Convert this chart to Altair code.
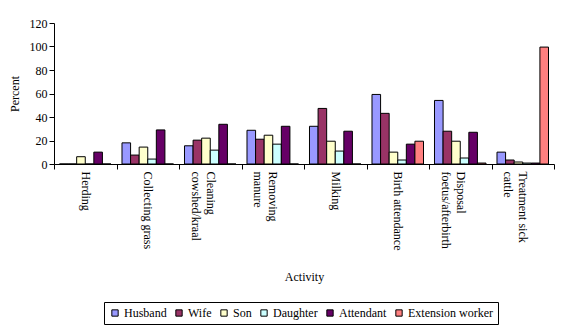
import altair as alt
import pandas as pd

NB = "\u00a0"
activities = [
    "Herding",
    "Collecting grass",
    "Cleaning cowshed/kraal",
    "Removing manure",
    "Milking",
    "Birth attendance",
    "Disposal foetus/afterbirth",
    "Treatment sick cattle",
]
label_lines = [
    ["Herding"],
    ["Collecting grass"],
    [NB * 4 + "Cleaning", "cowshed/kraal"],
    ["Removing", NB * 2 + "manure"],
    ["Milking"],
    ["Birth attendance"],
    [NB * 7 + "Disposal", "foetus/afterbirth"],
    ["Treatment sick", NB * 8 + "cattle"],
]
groups = ["Husband", "Wife", "Son", "Daughter", "Attendant", "Extension worker"]
colors = ["#9999FF", "#993366", "#FFFFCC", "#CCFFFF", "#660066", "#FF8080"]

husband   = [0, 18, 15.5, 28.7, 32.1, 59.2, 54.1, 10.1]
wife      = [0, 7.6, 20.3, 21.1, 47.3, 43.1, 27.9, 3.4]
son       = [6.2, 14.4, 22.0, 24.5, 19.4, 10.1, 19.4, 1.7]
daughter  = [0, 4.2, 11.8, 16.9, 11.0, 3.4, 5.1, 0.8]
attendant = [10.1, 29.0, 33.8, 32.1, 27.9, 16.9, 27.0, 0.8]
extension = [0, 0, 0, 0, 0, 19.4, 0.8, 99.5]

series = [husband, wife, son, daughter, attendant, extension]
rows = []
for g, vals in zip(groups, series):
    for a, v in zip(activities, vals):
        rows.append({"Activity": a, "Group": g, "Percent": v})
df = pd.DataFrame(rows)

label_map = {a: l for a, l in zip(activities, label_lines)}
label_expr = "{" + ",".join(
    f'"{a}": [' + ",".join(f'"{s}"' for s in l) + "]" for a, l in label_map.items()
) + "}[datum.value]"

FONT = "'Liberation Serif', 'DejaVu Serif', serif"

chart = alt.Chart(df).mark_bar(stroke="black", strokeWidth=1).encode(
    x=alt.X(
        "Activity:N",
        sort=activities,
        scale=alt.Scale(paddingInner=0, paddingOuter=0),
        axis=alt.Axis(
            title="Activity",
            labelAngle=90,
            labelAlign="left",
            labelBaseline="middle",
            labelExpr=label_expr,
            labelLineHeight=15,
            labelFontSize=12,
            labelFont=FONT,
            labelPadding=2,
            tickBand="extent",
            tickSize=5,
            titlePadding=22,
            labelColor="black",
            labelLimit=200,
        ),
    ),
    xOffset=alt.XOffset(
        "Group:N",
        sort=groups,
        scale=alt.Scale(paddingInner=0, paddingOuter=0.64),
    ),
    y=alt.Y(
        "Percent:Q",
        scale=alt.Scale(domain=[0, 120]),
        axis=alt.Axis(
            title="Percent",
            values=[0, 20, 40, 60, 80, 100, 120],
            grid=False,
            tickSize=5,
            labelFontSize=12,
            labelFont=FONT,
            titlePadding=8,
            labelColor="black",
        ),
    ),
    color=alt.Color(
        "Group:N",
        sort=groups,
        scale=alt.Scale(domain=groups, range=colors),
        legend=alt.Legend(
            title=None,
            orient="none",
            legendX=50,
            legendY=279,
            direction="horizontal",
            symbolType="square",
            symbolSize=40,
            symbolStrokeColor="black",
            symbolStrokeWidth=1,
            labelFontSize=12,
            labelFont=FONT,
            labelColor="black",
            columnPadding=6,
            labelOffset=3,
            strokeColor="black",
            padding=5,
            labelLimit=200,
        ),
    ),
).properties(
    width=500,
    height=141,
    autosize=alt.AutoSizeParams(type="none"),
    padding={"left": 54, "top": 23, "right": 9, "bottom": 166},
).configure(
    font=FONT,
).configure_axis(
    domainColor="black",
    tickColor="black",
    labelFont=FONT,
    titleFont=FONT,
    titleFontWeight="normal",
    titleFontSize=12,
    titleColor="black",
).configure_legend(
    labelFont=FONT,
).configure_view(
    stroke=None,
)

chart.save("out.html", embed_options={"renderer": "svg", "actions": False})
